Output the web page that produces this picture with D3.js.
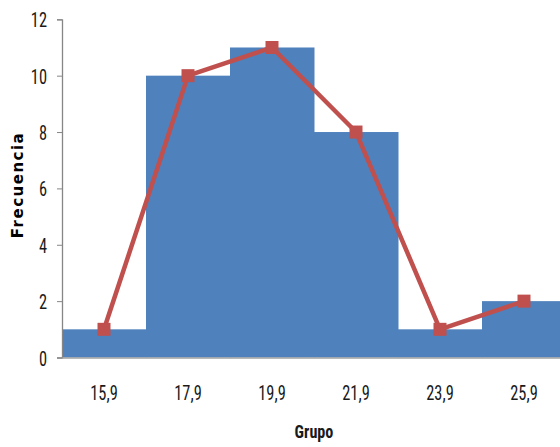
<!DOCTYPE html>
<html><head><meta charset="utf-8">
<script src="https://cdn.jsdelivr.net/npm/d3@7"></script>
<style>
html,body{margin:0;padding:0;background:#fff;overflow:hidden}
</style></head>
<body><svg id="c" width="560" height="447"></svg>
<script>
const categories = ["15,9","17,9","19,9","21,9","23,9","25,9"];
const frequencies = [1,10,11,8,1,2];
const yTicks = [0,2,4,6,8,10,12];

const FONT = '"Liberation Sans Narrow","Roboto Condensed","DejaVu Sans Condensed",sans-serif';
const svg = d3.select("#c");
const mLeft = 62, mRight = 566, mTop = 19.3, mBottom = 357.5;

const x = d3.scaleBand().domain(categories).range([mLeft,mRight]).padding(0);
const y = d3.scaleLinear().domain([0,12]).range([mBottom,mTop]);

svg.append("g").selectAll("rect").data(categories).join("rect")
  .attr("x", d=>x(d)).attr("width", x.bandwidth()+0.5)
  .attr("y", (d,i)=>y(frequencies[i])).attr("height",(d,i)=>y(0)-y(frequencies[i]))
  .attr("fill","#4F81BD");

const sx = 0.78;
// y axis
const yAxis = d3.axisLeft(y).tickValues(yTicks).tickSize(5).tickFormat(d3.format("d"));
const gy = svg.append("g").attr("transform",`translate(${mLeft},0)`).call(yAxis);
gy.select(".domain").attr("stroke","#868686").attr("stroke-width",1.3);
gy.selectAll(".tick line").attr("stroke","#868686");
gy.selectAll(".tick text").style("font-family",FONT).style("font-size","21px")
  .attr("fill","#1a1a1a").attr("transform",`scale(${sx},1)`).attr("x",-15/sx).attr("dy","0.36em");

// x axis
const xAxis = d3.axisBottom(x).tickSize(0);
const gx = svg.append("g").attr("transform",`translate(0,${mBottom})`).call(xAxis);
gx.select(".domain").attr("stroke","#A0A0A0").attr("stroke-width",1.5);
gx.selectAll(".tick text").style("font-family",FONT).style("font-size","21px")
  .attr("fill","#1a1a1a").attr("transform",`scale(${sx},1)`).attr("y",42.5).attr("dy",0);

// line
const line = d3.line().x(d=>x(d.c)+x.bandwidth()/2).y(d=>y(d.v));
const pts = categories.map((c,i)=>({c, v:frequencies[i]}));
svg.append("path").datum(pts).attr("d",line).attr("fill","none")
  .attr("stroke","#C0504D").attr("stroke-width",4.5).attr("stroke-linejoin","round");
svg.append("g").selectAll("rect").data(pts).join("rect")
  .attr("x",d=>x(d.c)+x.bandwidth()/2-6.5).attr("y",d=>y(d.v)-6.5)
  .attr("width",13).attr("height",13).attr("fill","#C0504D");

// titles
svg.append("text").attr("transform","translate(314,438) scale(0.85,1)").attr("text-anchor","middle")
  .style("font-family",FONT).style("font-size","19px").style("font-weight","bold")
  .attr("fill","#1a1a1a").text("Grupo");
svg.append("text").attr("transform","translate(23,185) rotate(-90)").attr("text-anchor","middle")
  .style("font-family","'DejaVu Sans',sans-serif").style("font-size","15px").style("font-weight","bold")
  .attr("letter-spacing",1.5).attr("fill","#000").text("Frecuencia");
</script></body></html>
